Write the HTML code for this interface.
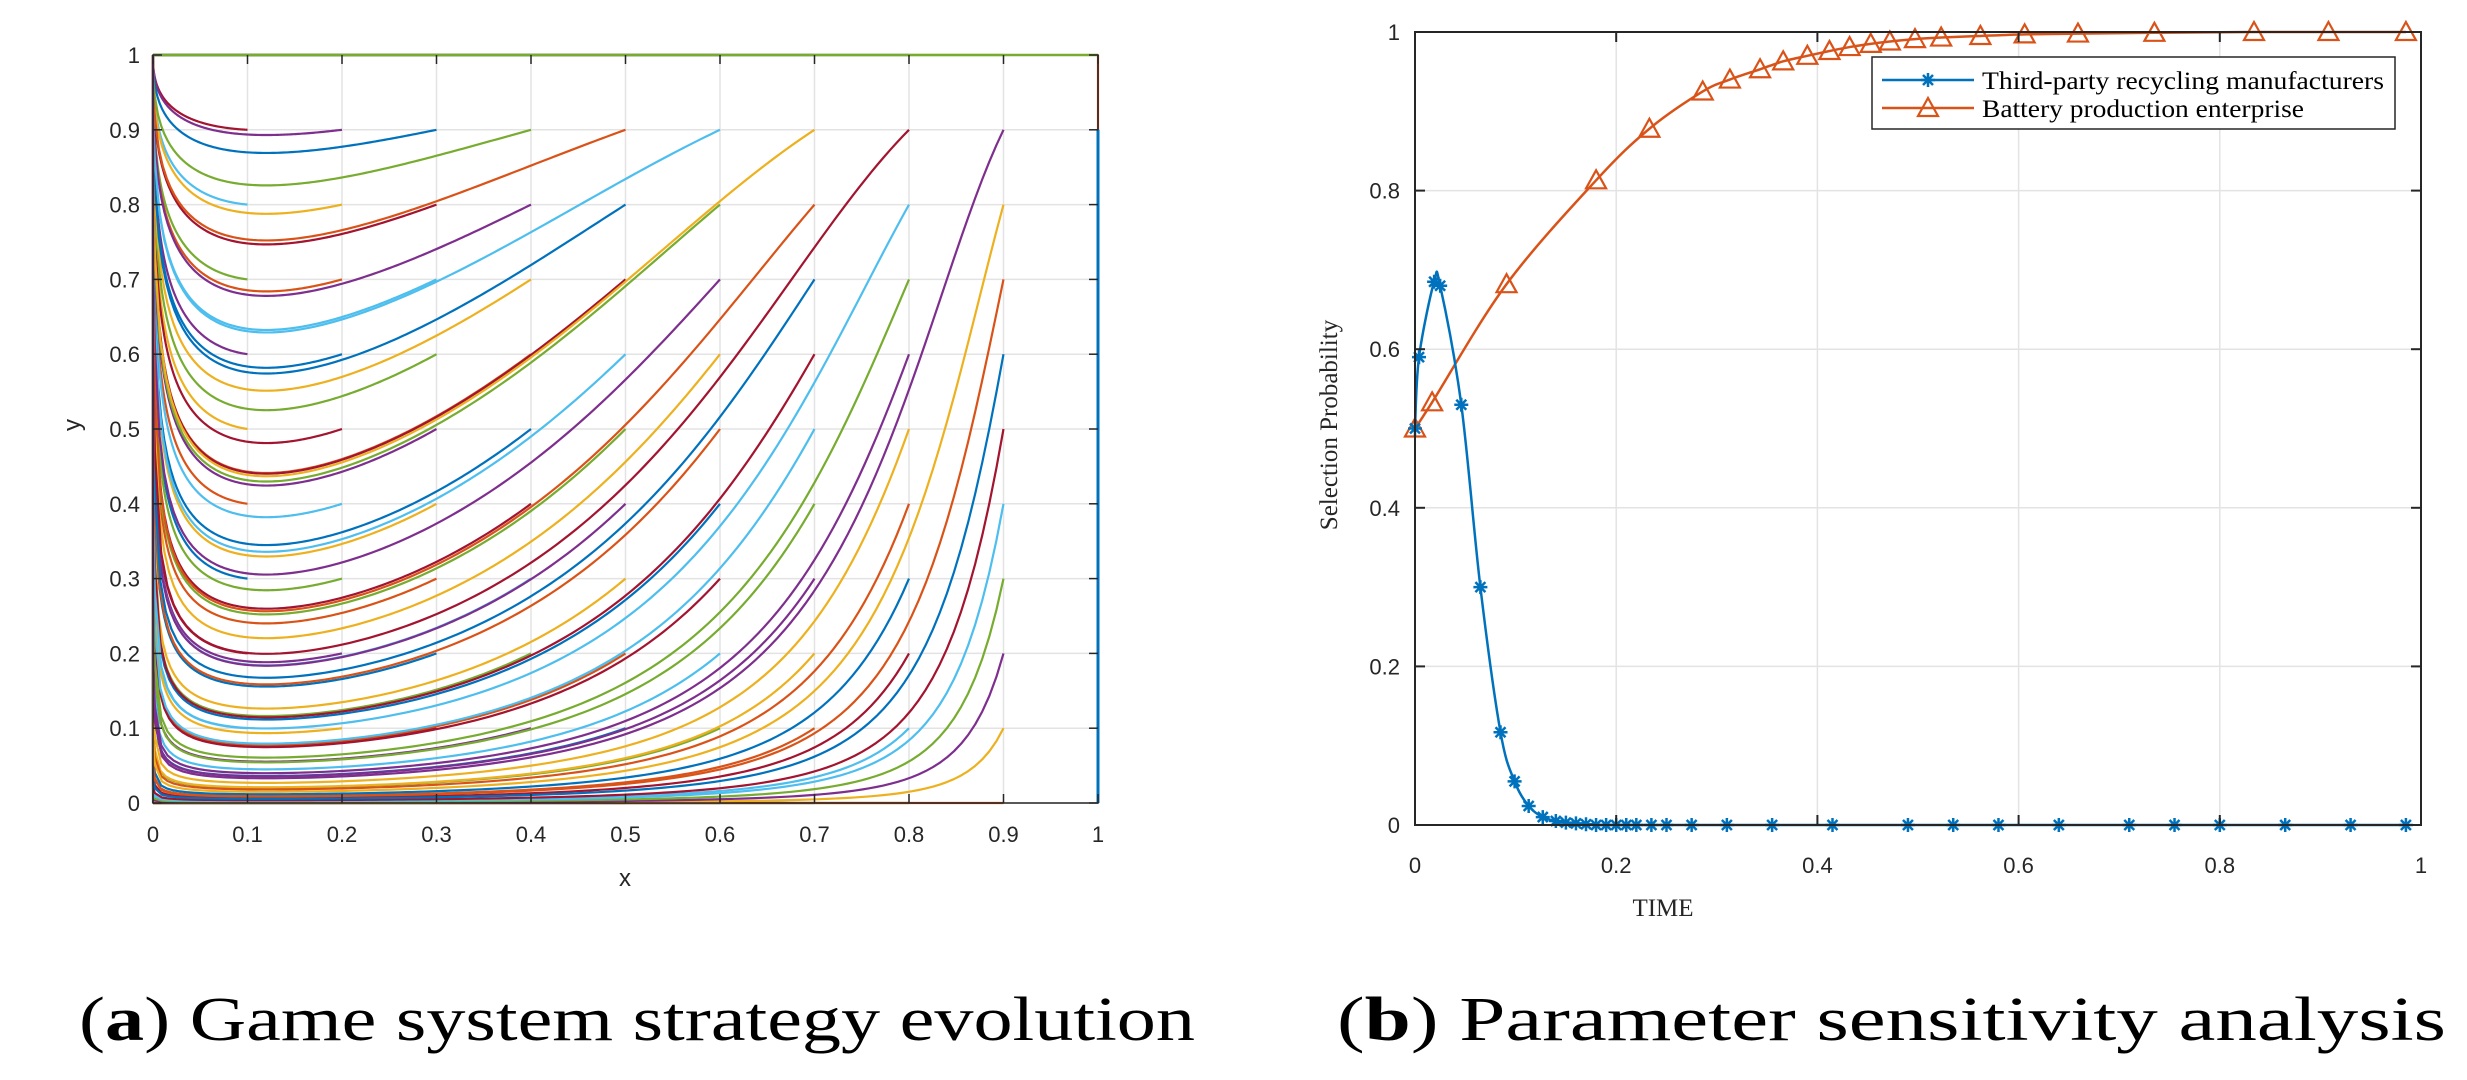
<!DOCTYPE html>
<html><head><meta charset="utf-8"><style>
html,body{margin:0;padding:0;background:#fff;}
svg{display:block;}
</style></head><body>
<svg id="fig" width="2467" height="1080" viewBox="0 0 2467 1080" xmlns="http://www.w3.org/2000/svg">
<rect x="0" y="0" width="2467" height="1080" fill="#fff"/>
<g id="left"></g>
<g id="right"></g>
<text x="79" y="1040" font-family="'Liberation Serif', serif" font-size="62" textLength="1116" lengthAdjust="spacingAndGlyphs" fill="#000">(<tspan font-weight="bold">a</tspan>) Game system strategy evolution</text>
<text x="1337" y="1040" font-family="'Liberation Serif', serif" font-size="62" textLength="1109" lengthAdjust="spacingAndGlyphs" fill="#000">(<tspan font-weight="bold">b</tspan>) Parameter sensitivity analysis</text>
</svg>
<script>
// ---------- Left chart data ----------
const xStarts = [0,0.1,0.2,0.3,0.4,0.5,0.6,0.7,0.8,0.9,1];
const yStarts = [0,0.1,0.2,0.3,0.4,0.5,0.6,0.7,0.8,0.9,1];
const leftTicks = [0,0.1,0.2,0.3,0.4,0.5,0.6,0.7,0.8,0.9,1];
const leftTickLabels = ["0","0.1","0.2","0.3","0.4","0.5","0.6","0.7","0.8","0.9","1"];
const yNullcline = 0.12;   // x at which y-trajectories reach minimum
const speedRatio = 0.3;    // relative speed of x dynamics
// ---------- Right chart data ----------
const tBlue = [0,0.004,0.019,0.025,0.046,0.065,0.085,0.099,0.113,0.127,0.14,0.15,0.16,0.17,0.18,0.19,0.2,0.21,0.22,0.235,0.25,0.275,0.31,0.355,0.415,0.49,0.535,0.58,0.64,0.71,0.755,0.8,0.865,0.93,0.985];
const vBlue = [0.5,0.59,0.685,0.68,0.53,0.30,0.117,0.055,0.024,0.01,0.005,0.003,0.002,0.001,0,0,0,0,0,0,0,0,0,0,0,0,0,0,0,0,0,0,0,0,0];
const tOrange = [0,0.017,0.091,0.18,0.233,0.286,0.313,0.343,0.366,0.39,0.412,0.432,0.453,0.472,0.497,0.523,0.562,0.606,0.659,0.735,0.834,0.908,0.985];
const vOrange = [0.5,0.533,0.682,0.813,0.878,0.925,0.94,0.953,0.963,0.97,0.976,0.981,0.985,0.988,0.991,0.993,0.995,0.997,0.998,0.999,1,1,1];
const rightTicks = [0,0.2,0.4,0.6,0.8,1];
const rightTickLabels = ["0","0.2","0.4","0.6","0.8","1"];
const legendLabels = ["Third-party recycling manufacturers","Battery production enterprise"];

const NS="http://www.w3.org/2000/svg";
function mk(parent,tag,attrs,text){const e=document.createElementNS(NS,tag);for(const k in attrs)e.setAttribute(k,attrs[k]);if(text!==undefined)e.textContent=text;parent.appendChild(e);return e;}
const colors=["#0072BD","#D95319","#EDB120","#7E2F8E","#77AC30","#4DBEEE","#A2142F"];
const axisCol="#262626", gridCol="#e3e3e3";

// ===== Left chart =====
const L=document.getElementById('left');
const LX=x=>153+945*x, LY=y=>803-748*y;
for(const t of leftTicks){
  const gv=mk(L,'line',{x1:LX(t),x2:LX(t),y1:LY(0),y2:LY(1),stroke:gridCol,'stroke-width':1.5});
  
  const gh=mk(L,'line',{x1:LX(0),x2:LX(1),y1:LY(t),y2:LY(t),stroke:gridCol,'stroke-width':1.5});
  
}
function G(x){return -yNullcline*Math.log(x)-(1-yNullcline)*Math.log(1-x);}
let ci=0;
const Lg=mk(L,'g',{});

for(const x0 of xStarts){for(const y0 of yStarts){
  let pts=[];
  if(x0===0){pts=[[0,y0],[0,1]];}
  else if(x0===1){pts=[[1,y0],[1,0]];}
  else if(y0===0||y0===1){pts=[[x0,y0],[0,y0]];}
  else{
    const l0=Math.log(y0/(1-y0)), g0=G(x0);
    const xs=[];
    for(let i=0;i<=120;i++){xs.push(x0-(x0-0.002)*i/120);}
    for(let i=1;i<=60;i++){xs.push(0.002*Math.pow(1e-12/0.002,i/60));}
    for(const x of xs){const l=l0+(G(x)-g0)/speedRatio;pts.push([x,1/(1+Math.exp(-l))]);}
  }
  const d=pts.map((p,i)=>(i?'L':'M')+LX(p[0]).toFixed(2)+' '+LY(p[1]).toFixed(2)).join(' ');
  const p=mk(Lg,'path',{d:d,fill:'none',stroke:colors[ci%7],'stroke-width':2.2,'stroke-linejoin':'round'});
  
  ci++;
}}
const lb=mk(L,'rect',{x:LX(0),y:LY(1),width:945,height:748,fill:'none',stroke:axisCol,'stroke-width':1.5});

// redraw top green/right blue edges
mk(L,'line',{x1:LX(0),x2:LX(1),y1:LY(1),y2:LY(1),stroke:'#77AC30','stroke-width':2.5});
mk(L,'line',{x1:LX(1),x2:LX(1),y1:LY(0),y2:LY(0.9),stroke:'#0072BD','stroke-width':3});
leftTicks.forEach((t,i)=>{
  mk(L,'line',{x1:LX(t),x2:LX(t),y1:LY(0),y2:LY(0)-9,stroke:axisCol,'stroke-width':1.5});
  mk(L,'line',{x1:LX(t),x2:LX(t),y1:LY(1),y2:LY(1)+9,stroke:axisCol,'stroke-width':1.5});
  mk(L,'line',{x1:LX(0),x2:LX(0)+9,y1:LY(t),y2:LY(t),stroke:axisCol,'stroke-width':1.5});
  mk(L,'line',{x1:LX(1),x2:LX(1)-9,y1:LY(t),y2:LY(t),stroke:axisCol,'stroke-width':1.5});
  const tx=mk(L,'text',{x:LX(t),y:842,'text-anchor':'middle','font-family':"'Liberation Sans', sans-serif",'font-size':22,fill:axisCol},leftTickLabels[i]);
  
  const ty=mk(L,'text',{x:140,y:LY(t)+8,'text-anchor':'end','font-family':"'Liberation Sans', sans-serif",'font-size':22,fill:axisCol},leftTickLabels[i]);
  
});
const xl=mk(L,'text',{x:625,y:886,'text-anchor':'middle','font-family':"'Liberation Sans', sans-serif",'font-size':24,fill:axisCol},'x');

const yl=mk(L,'text',{x:0,y:0,transform:'translate(80,425) rotate(-90)','text-anchor':'middle','font-family':"'Liberation Sans', sans-serif",'font-size':24,fill:axisCol},'y');


// ===== Right chart =====
const R=document.getElementById('right');
const RX=t=>1415+1006*t, RY=v=>825-793*v;
for(const t of rightTicks){
  const gv=mk(R,'line',{x1:RX(t),x2:RX(t),y1:RY(0),y2:RY(1),stroke:gridCol,'stroke-width':1.5});
  
  const gh=mk(R,'line',{x1:RX(0),x2:RX(1),y1:RY(t),y2:RY(t),stroke:gridCol,'stroke-width':1.5});
  
}
function spline(ts,vs){
  const P=ts.map((t,i)=>[RX(t),RY(vs[i])]);
  let d='M'+P[0][0]+' '+P[0][1];
  for(let i=0;i<P.length-1;i++){
    const p0=P[Math.max(0,i-1)],p1=P[i],p2=P[i+1],p3=P[Math.min(P.length-1,i+2)];
    const c1=[p1[0]+(p2[0]-p0[0])/6,p1[1]+(p2[1]-p0[1])/6];
    const c2=[p2[0]-(p3[0]-p1[0])/6,p2[1]-(p3[1]-p1[1])/6];
    d+=` C${c1[0].toFixed(2)} ${c1[1].toFixed(2)} ${c2[0].toFixed(2)} ${c2[1].toFixed(2)} ${p2[0].toFixed(2)} ${p2[1].toFixed(2)}`;
  }
  return d;
}
function star(g,x,y,col){
  const s=mk(g,'path',{d:`M${x-7} ${y}H${x+7}M${x} ${y-7}V${y+7}M${x-5} ${y-5}L${x+5} ${y+5}M${x-5} ${y+5}L${x+5} ${y-5}`,stroke:col,'stroke-width':2.5,fill:'none'});
  return s;
}
function tri(g,x,y,col){
  return mk(g,'path',{d:`M${x} ${y-10}L${x+10} ${y+8}L${x-10} ${y+8}Z`,stroke:col,'stroke-width':2.2,fill:'none'});
}
const ob=mk(R,'path',{d:spline(tOrange,vOrange),fill:'none',stroke:'#D95319','stroke-width':2.5});

tOrange.forEach((t,i)=>{const m=tri(R,RX(t),RY(vOrange[i]),'#D95319');
  });
const bl=mk(R,'path',{d:spline(tBlue,vBlue),fill:'none',stroke:'#0072BD','stroke-width':2.5});

tBlue.forEach((t,i)=>{const m=star(R,RX(t),RY(vBlue[i]),'#0072BD');
  });
const rb=mk(R,'rect',{x:RX(0),y:RY(1),width:1006,height:793,fill:'none',stroke:axisCol,'stroke-width':2});

rightTicks.forEach((t,i)=>{
  mk(R,'line',{x1:RX(t),x2:RX(t),y1:RY(0),y2:RY(0)-10,stroke:axisCol,'stroke-width':2});
  mk(R,'line',{x1:RX(t),x2:RX(t),y1:RY(1),y2:RY(1)+10,stroke:axisCol,'stroke-width':2});
  mk(R,'line',{x1:RX(0),x2:RX(0)+10,y1:RY(t),y2:RY(t),stroke:axisCol,'stroke-width':2});
  mk(R,'line',{x1:RX(1),x2:RX(1)-10,y1:RY(t),y2:RY(t),stroke:axisCol,'stroke-width':2});
  const tx=mk(R,'text',{x:RX(t),y:873,'text-anchor':'middle','font-family':"'Liberation Sans', sans-serif",'font-size':22,fill:axisCol},rightTickLabels[i]);
  
  const ty=mk(R,'text',{x:1400,y:RY(t)+8,'text-anchor':'end','font-family':"'Liberation Sans', sans-serif",'font-size':22,fill:axisCol},rightTickLabels[i]);
  
});
const xt=mk(R,'text',{x:1663,y:916,'text-anchor':'middle','font-family':"'Liberation Serif', serif",'font-size':25,fill:axisCol},'TIME');

const yt=mk(R,'text',{x:0,y:0,transform:'translate(1337,425) rotate(-90)','text-anchor':'middle','font-family':"'Liberation Serif', serif",'font-size':25,fill:axisCol},'Selection Probability');

// legend
const lg=mk(R,'g',{});

mk(lg,'rect',{x:1872,y:57,width:523,height:72,fill:'#fff',stroke:axisCol,'stroke-width':1.5});
const e1=mk(lg,'g',{});

mk(e1,'line',{x1:1882,x2:1974,y1:80,y2:80,stroke:'#0072BD','stroke-width':2.5});
star(e1,1928,80,'#0072BD');
mk(e1,'text',{x:1982,y:89,'font-family':"'Liberation Serif', serif",'font-size':25,fill:'#000',textLength:402,lengthAdjust:'spacingAndGlyphs'},legendLabels[0]);
const e2=mk(lg,'g',{});

mk(e2,'line',{x1:1882,x2:1974,y1:108,y2:108,stroke:'#D95319','stroke-width':2.5});
tri(e2,1928,108,'#D95319');
mk(e2,'text',{x:1982,y:117,'font-family':"'Liberation Serif', serif",'font-size':25,fill:'#000',textLength:322,lengthAdjust:'spacingAndGlyphs'},legendLabels[1]);
</script>
</body></html>
